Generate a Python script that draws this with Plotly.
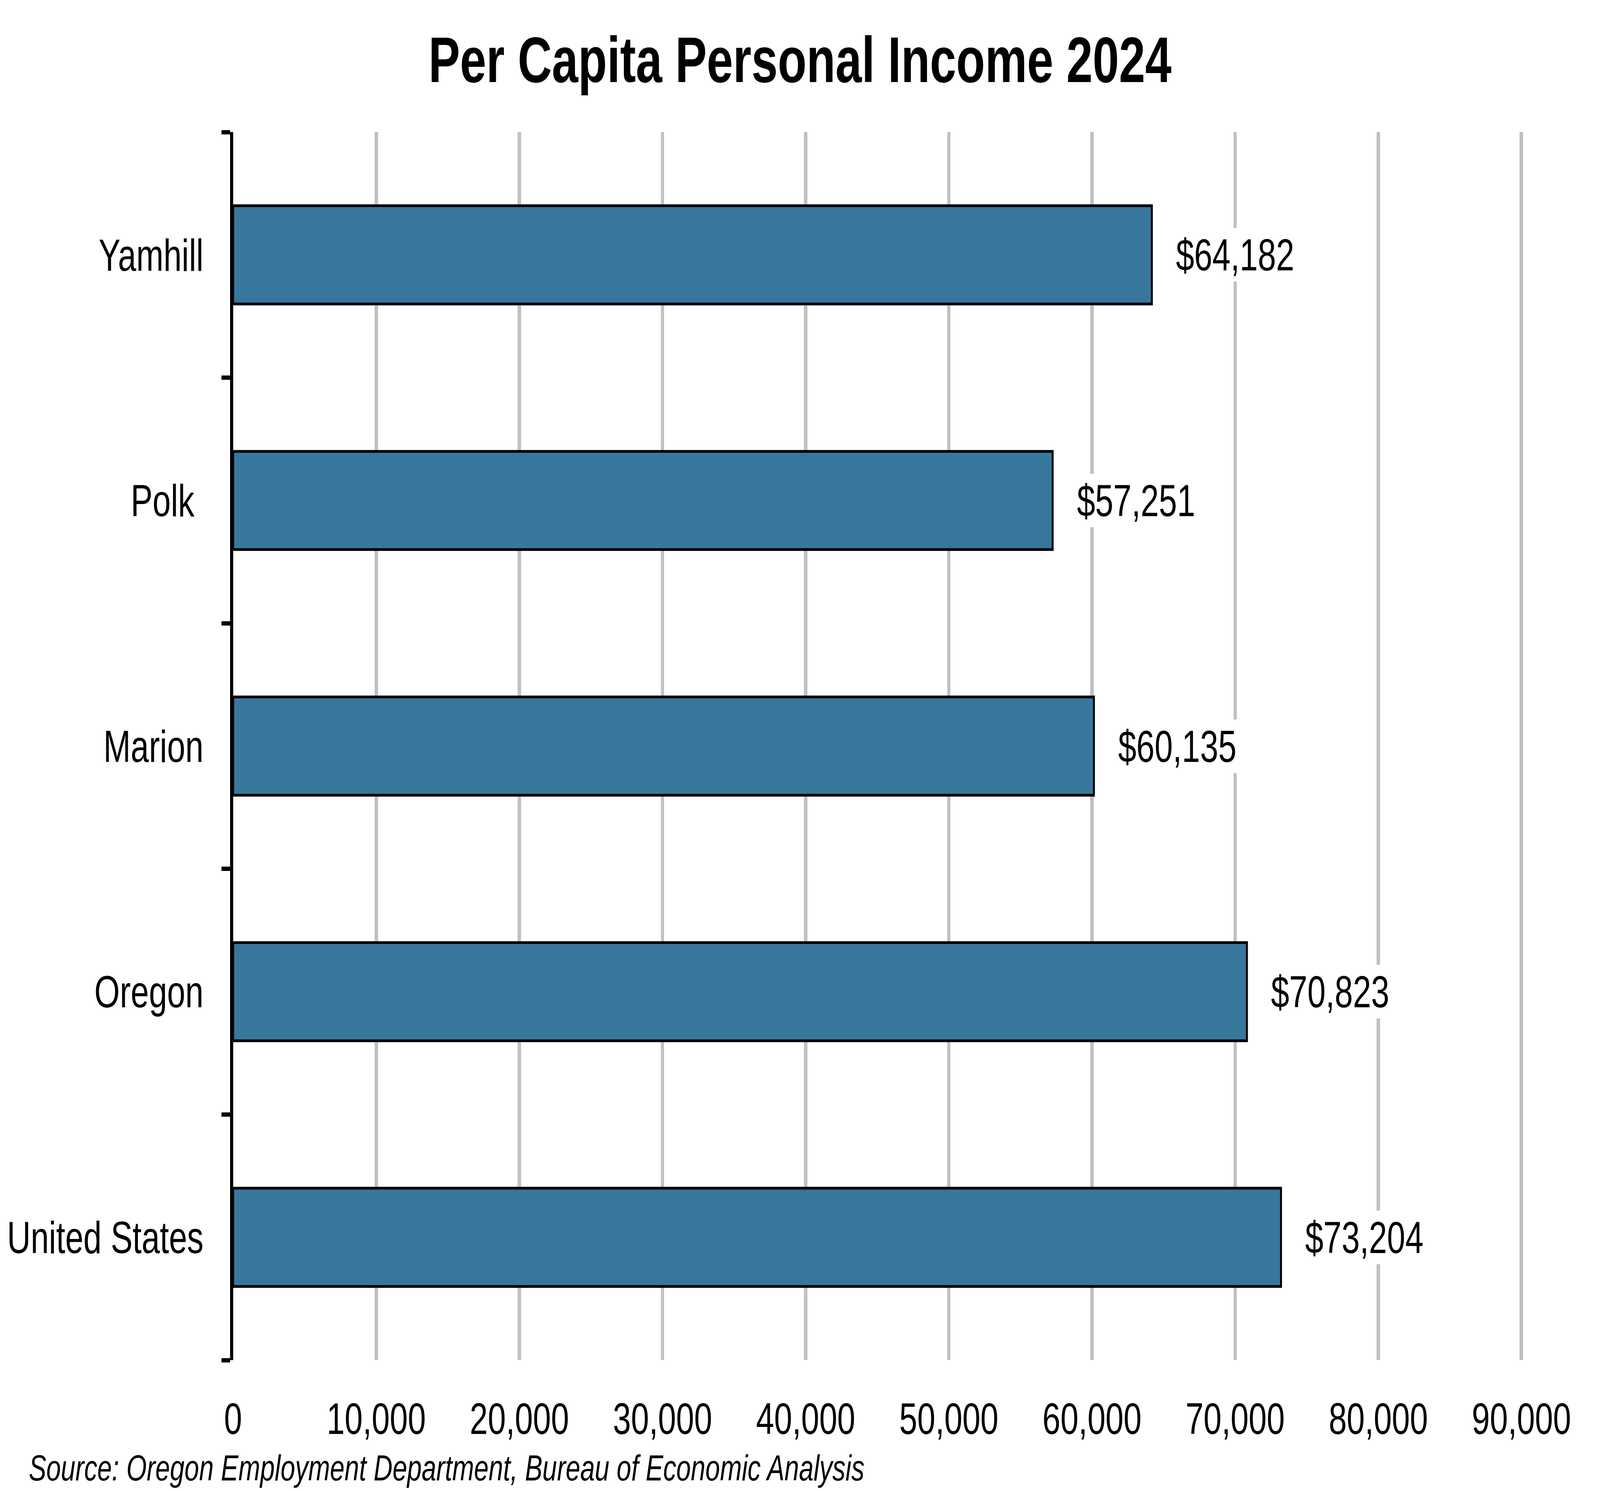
import plotly.graph_objects as go

categories = ["Yamhill", "Polk", "Marion", "Oregon", "United States"]
tick_labels = ["Yamhill", "Polk\u00a0", "Marion", "Oregon", "United States"]
income = [64182, 57251, 60135, 70823, 73204]
value_labels = ["$64,182", "$57,251", "$60,135", "$70,823", "$73,204"]
x_ticks = [0, 10000, 20000, 30000, 40000, 50000, 60000, 70000, 80000, 90000]
x_max = 90300

FONT = "Liberation Sans, Arial, sans-serif"
W, H = 5622, 3816
PX_PER_UNIT = 4527 / 90000
L, T, B = 819, 338, 335
R = W - L - round(x_max * PX_PER_UNIT)

fig = go.Figure()
fig.add_trace(go.Bar(
    x=income, y=categories, orientation="h",
    marker=dict(color="#38779c", line=dict(color="black", width=7)),
    width=0.4, hoverinfo="skip",
))

for c, v, t in zip(categories, income, value_labels):
    fig.add_annotation(x=v, y=c, xref="x", yref="y", text=t, showarrow=False,
                       xanchor="left", yanchor="middle", xshift=80,
                       bgcolor="white", borderpad=4,
                       font=dict(family=FONT, size=115, color="black"))

fig.add_annotation(text="<i>Source: Oregon Employment Department, Bureau of Economic Analysis</i>",
                   xref="paper", yref="paper", x=-(L - 100) / (W - L - R), y=-(3757 - (H - B)) / (H - T - B),
                   xanchor="left", yanchor="middle", showarrow=False, borderpad=0,
                   font=dict(family=FONT, size=92, color="black"))

fig.update_layout(
    width=W, height=H,
    margin=dict(l=L, r=R, t=T, b=B, pad=0),
    paper_bgcolor="white", plot_bgcolor="white",
    showlegend=False,
    title=dict(text="<b>Per Capita Personal Income 2024</b>", x=0.5, xanchor="center",
               xref="container", y=1 - 152 / H, yref="container", yanchor="middle",
               font=dict(family=FONT, size=166, color="black")),
    font=dict(family=FONT, color="black"),
)
fig.update_xaxes(range=[0, x_max], tickvals=x_ticks, tickformat=",d",
                 showgrid=True, gridcolor="#c0c0c0", gridwidth=12,
                 zeroline=False, showline=False, ticks="",
                 ticklabelstandoff=74,
                 tickfont=dict(family=FONT, size=114, color="black"))
fig.update_yaxes(categoryorder="array", categoryarray=categories, autorange="reversed",
                 tickvals=categories, ticktext=tick_labels,
                 showline=True, linecolor="black", linewidth=11,
                 ticks="outside", tickson="boundaries", ticklen=30, tickwidth=11, tickcolor="black",
                 showgrid=False, zeroline=False,
                 ticklabelstandoff=70,
                 tickfont=dict(family=FONT, size=115, color="black"))

# Fit the fixed-size figure into whatever viewport the browser actually provides.
post = """
var gd = document.getElementById('{plot_id}');
document.documentElement.style.overflow = 'hidden';
document.body.style.margin = '0';
document.body.style.overflow = 'hidden';
var vw = document.documentElement.clientWidth, vh = document.documentElement.clientHeight;
var sx = vw / %d, sy = vh / %d;
gd.style.transformOrigin = '0 0';
gd.style.transform = 'scale(' + sx + ',' + sy + ')';
""" % (W, H)

fig.write_html("out.html", post_script=post, config={"displayModeBar": False})
